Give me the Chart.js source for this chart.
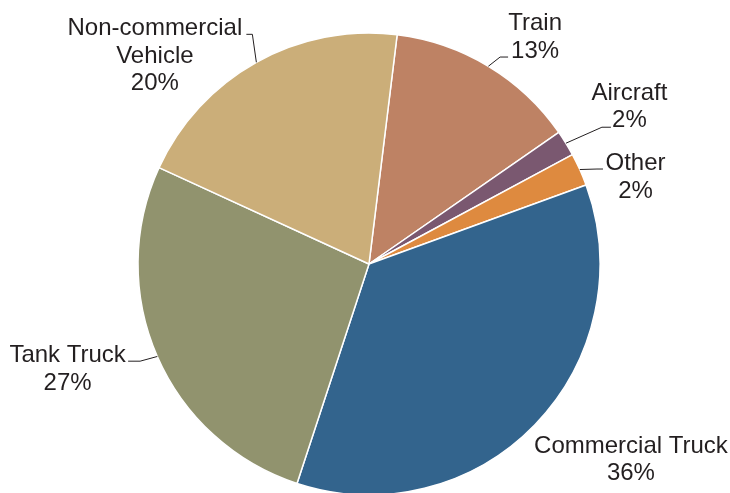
<!DOCTYPE html>
<html>
<head>
<meta charset="utf-8">
<script src="https://cdn.jsdelivr.net/npm/chart.js@4/dist/chart.umd.min.js"></script>
<style>
  html, body { margin: 0; padding: 0; background: #fff; overflow: hidden; }
  #wrap { width: 730px; height: 493px; }
</style>
</head>
<body>
<div id="wrap"><canvas id="pieChart" width="730" height="493"></canvas></div>
<script>
var categories = ['Train', 'Aircraft', 'Other', 'Commercial Truck', 'Tank Truck', 'Non-commercial Vehicle'];
var shares = [13.4, 1.8, 2.3, 35.6, 26.8, 20.1];
var sliceColors = ['#be8264', '#7a5870', '#de8a3f', '#33648d', '#91936e', '#cbae79'];

// label placement, offsets from the point where the slice's mid angle meets the rim
var labelLayout = [
  { elbow: [11.7, -9.2], run: 8, text: [46.7, -36.2], wrap: false },
  { elbow: [36, -16], run: 9, text: [63.5, -43.3], wrap: false },
  { elbow: [17.2, -0.5], run: 6, text: [55.7, 0.5], wrap: false },
  { elbow: null, run: 0, text: [96, 28], wrap: false },
  { elbow: [-17.2, 4.7], run: -12, text: [-89.7, 5.7], wrap: false },
  { elbow: [-4, -28], run: -6, text: [-101.5, -27], wrap: true }
];

var outsideLabels = {
  id: 'outsideLabels',
  afterDatasetsDraw: function(chart) {
    var ctx = chart.ctx;
    var meta = chart.getDatasetMeta(0);
    var data = chart.data.datasets[0].data;
    var total = data.reduce(function(a, b) { return a + b; }, 0);
    ctx.save();
    ctx.font = '24px "Liberation Sans", Arial, sans-serif';
    ctx.fillStyle = '#231f20';
    ctx.strokeStyle = '#231f20';
    ctx.lineWidth = 1;
    ctx.textAlign = 'center';
    ctx.textBaseline = 'alphabetic';
    meta.data.forEach(function(arc, i) {
      var p = arc.getProps(['x', 'y', 'startAngle', 'endAngle', 'outerRadius'], true);
      var mid = (p.startAngle + p.endAngle) / 2;
      var ex = p.x + Math.cos(mid) * p.outerRadius;
      var ey = p.y + Math.sin(mid) * p.outerRadius;
      var lay = labelLayout[i];
      if (lay.elbow) {
        var bx = ex + lay.elbow[0], by = ey + lay.elbow[1];
        ctx.beginPath();
        ctx.moveTo(ex, ey);
        ctx.lineTo(bx, by);
        ctx.lineTo(bx + lay.run, by);
        ctx.stroke();
      }
      var lines = lay.wrap ? categories[i].split(' ') : [categories[i]];
      lines.push(Math.round(data[i] / total * 100) + '%');
      var tx = ex + lay.text[0], ty = ey + lay.text[1];
      lines.forEach(function(line, k) {
        ctx.fillText(line, tx, ty + k * 27.5);
      });
    });
    ctx.restore();
  }
};

var pieCtx = document.getElementById('pieChart').getContext('2d');
var pieChart = new Chart(pieCtx, {
  type: 'pie',
  data: {
    labels: categories,
    datasets: [{
      data: shares,
      backgroundColor: sliceColors,
      borderColor: '#ffffff',
      borderWidth: 1.5
    }]
  },
  options: {
    responsive: false,
    animation: false,
    rotation: 7,
    radius: 231,
    layout: {
      padding: { top: 35, left: 8, right: 0, bottom: 0 }
    },
    plugins: {
      legend: { display: false },
      tooltip: { enabled: false }
    }
  },
  plugins: [outsideLabels]
});
</script>
</body>
</html>
